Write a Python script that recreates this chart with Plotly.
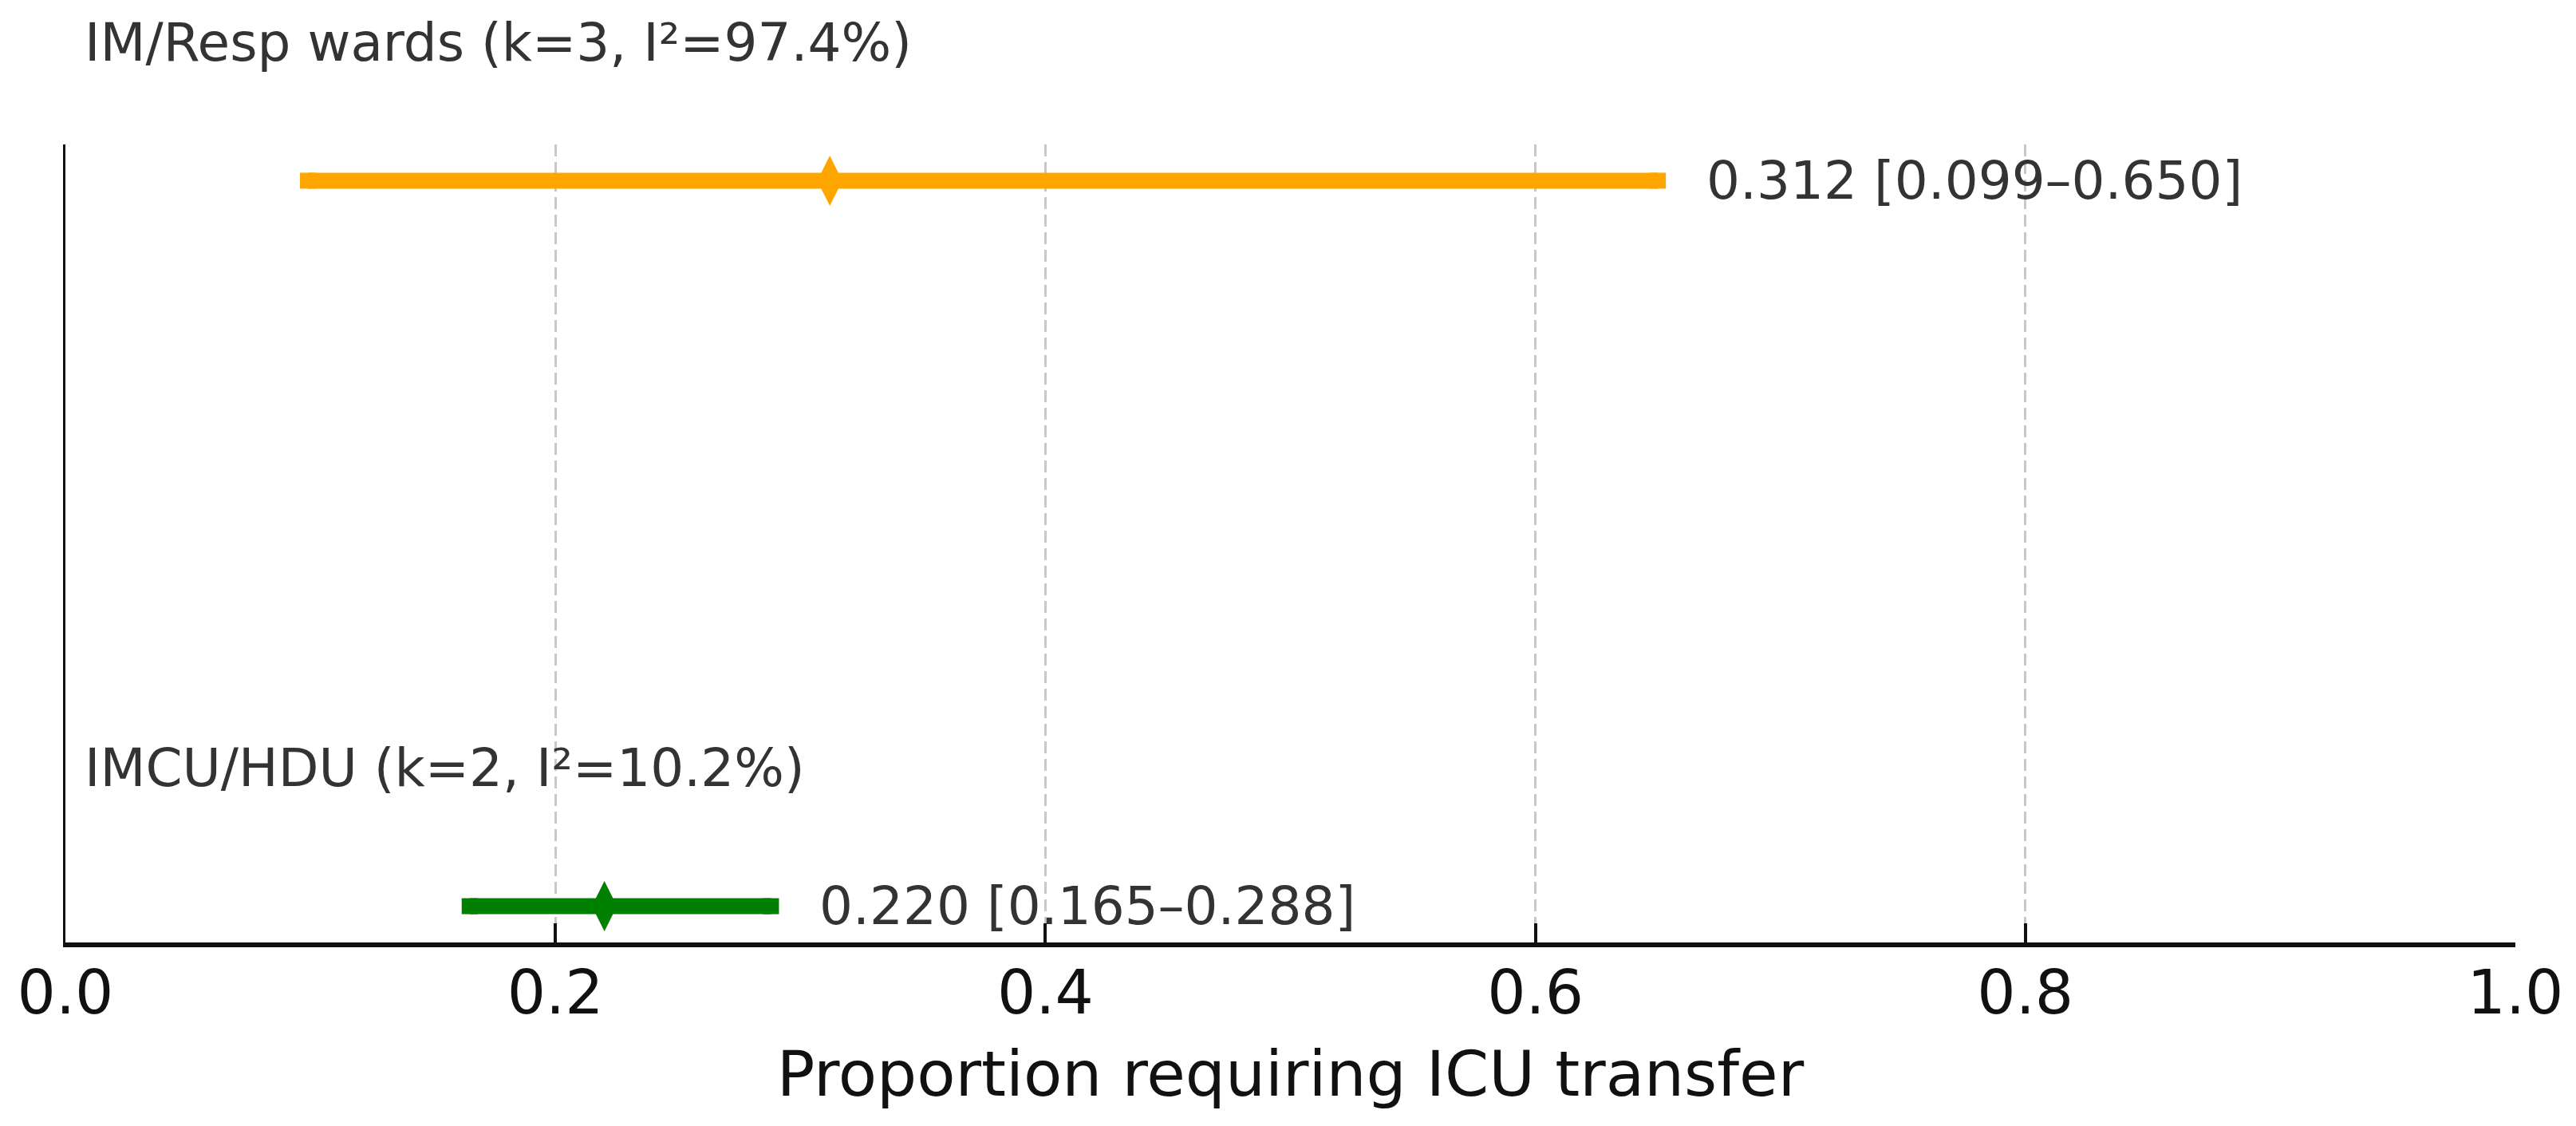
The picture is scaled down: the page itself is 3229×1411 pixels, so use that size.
import plotly.graph_objects as go

groups = ["IM/Resp wards", "IMCU/HDU"]
k_studies = [3, 2]
i2 = [97.4, 10.2]
estimates = [0.312, 0.220]
lower = [0.099, 0.165]
upper = [0.650, 0.288]
ypos = [1, 0]
colors = ["#FFA500", "#008000"]
tick_vals = [0.0, 0.2, 0.4, 0.6, 0.8, 1.0]
tick_text = ["0.0", "0.2", "0.4", "0.6", "0.8", "1.0"]
x_title = "Proportion requiring ICU transfer"

FONT = "DejaVu Sans"
LW = 20
fig = go.Figure()

for g, k, h, est, lo, hi, y, c in zip(groups, k_studies, i2, estimates, lower, upper, ypos, colors):
    # CI line (square end markers emulate projecting caps)
    fig.add_trace(go.Scatter(x=[lo, hi], y=[y, y], mode="lines+markers",
                             line=dict(color=c, width=LW),
                             marker=dict(symbol="square", size=LW, color=c,
                                         line=dict(width=0)),
                             showlegend=False, hoverinfo="skip"))
    fig.add_trace(go.Scatter(x=[est], y=[y], mode="markers",
                             marker=dict(symbol="diamond-tall", size=45, color=c,
                                         line=dict(width=0)),
                             showlegend=False))
    fig.add_annotation(x=hi + 0.019, y=y, xref="x", yref="y",
                       text=f"{est:.3f} [{lo:.3f}–{hi:.3f}]", showarrow=False,
                       xanchor="left", yanchor="middle",
                       font=dict(family=FONT, size=66, color="#333333"))
    fig.add_annotation(x=0.007, y=y, yshift=173, xref="x", yref="y",
                       text=f"{g} (k={k}, I²={h}%)", showarrow=False,
                       xanchor="left", yanchor="middle",
                       font=dict(family=FONT, size=66, color="#333333"))

fig.update_layout(
    width=3229, height=1411,
    margin=dict(l=74, r=84, t=173, b=238),
    plot_bgcolor="white", paper_bgcolor="white",
    font=dict(family=FONT, color="#111111"),
    xaxis=dict(range=[0, 1], tickvals=tick_vals, ticktext=tick_text,
               showline=True, linecolor="#111111", linewidth=6,
               ticks="inside", ticklen=24, tickwidth=4, tickcolor="#111111",
               tickfont=dict(family=FONT, size=76, color="#111111"),
               ticklabelstandoff=-8,
               showgrid=True, gridcolor="#c8c8c8", gridwidth=3, griddash="15px,7px",
               zeroline=False,
               title=dict(text=x_title, font=dict(family=FONT, size=79, color="#111111"),
                          standoff=32)),
    yaxis=dict(range=[-0.05, 1.05], showline=True, linecolor="#111111", linewidth=3,
               showticklabels=False, ticks="", showgrid=False, zeroline=False),
)

fig.write_html("out.html")
